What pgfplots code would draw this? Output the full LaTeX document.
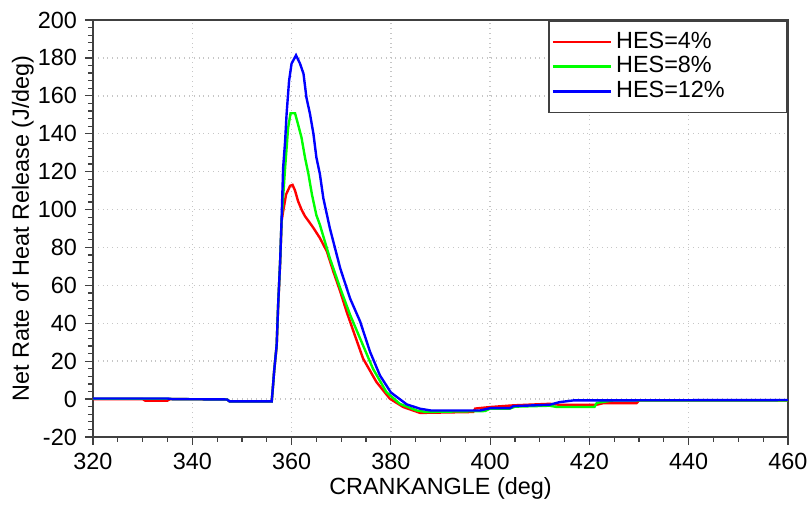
\documentclass[border=0pt]{standalone}
\usepackage{pgfplots}
\pgfplotsset{compat=1.18}
\usepackage{fontspec}
\setmainfont{Liberation Sans}
\definecolor{axgray}{RGB}{64,64,64}
\begin{document}
\fontsize{11.7}{14}\selectfont
\begin{tikzpicture}
\useasboundingbox (0,0) rectangle (405.5pt,254pt);
\begin{axis}[
  at={(46.5pt,35.5pt)}, anchor=south west,
  scale only axis, width=347.5pt, height=208.5pt,
  xmin=320, xmax=460, ymin=-20, ymax=200,
  xtick={320,340,...,460}, ytick={-20,0,...,200},
  minor x tick num=3, minor y tick num=4,
  tick align=outside, xtick pos=bottom, ytick pos=left,
  major tick length=4pt, minor tick length=2.5pt,
  axis line style={axgray, line width=0.8pt},
  every tick/.style={axgray, line width=0.6pt},
  grid=major, major grid style={gray!45, dotted, line width=0.7pt},
  /pgf/number format/assume math mode=true,
  ticklabel style={font=\fontsize{11.7}{14}\selectfont},
  xlabel={CRANKANGLE (deg)}, ylabel={Net Rate of Heat Release (J/deg)},
  label style={font=\fontsize{11.7}{14}\selectfont},
  xlabel style={yshift=4pt}, ylabel style={yshift=-6pt},
  legend style={at={(1,1)}, anchor=north east, draw=axgray, line width=0.8pt,
    font=\fontsize{11.7}{14}\selectfont, inner xsep=1.5pt, inner ysep=3.5pt,
    row sep=-1.5pt, cells={anchor=west, text width=82pt}},
  legend image code/.code={\draw[#1, line width=1.2pt] (0pt,0pt) -- (29pt,0pt);},
  legend cell align=left,
  every axis plot/.append style={line width=1.2pt},
]
\addplot[red] coordinates {
(320,0) (330,0) (330.5,-0.8) (335,-0.8) (335.5,0) (347,-0.2) (347.5,-1.2) (356,-1.2)
(356.2,5) (356.5,15) (357,28) (357.3,49) (357.7,72) (358,94) (358.3,99) (358.9,108)
(359.7,112.5) (360.2,113) (360.7,110) (361.3,104.5) (362,100) (362.7,96.5) (363.4,94)
(364.4,90.3) (365.7,85) (367.1,78) (368.4,67.4) (369.8,56.8) (371.1,46) (372.5,35.5)
(374.4,21.4) (377.1,9) (379.8,0.2) (382.5,-4.2) (385.9,-7.3) (396.6,-6.8) (397,-5)
(400,-4.2) (404.7,-3.3) (412,-2.5) (414,-3) (421.4,-3) (422.7,-2.2) (429.5,-2.1)
(430,-0.7) (460,-0.7)
};
\addlegendentry{HES=4\%}
\addplot[green] coordinates {
(320,0.2) (335,0.2) (336,0) (347,-0.2) (347.5,-1.2) (356,-1.2)
(356.2,5) (356.5,15) (357,28.6) (357.3,50) (357.7,72.7) (358,95) (358.7,122)
(359.3,143) (359.8,150.8) (360.7,150.8) (361.3,145) (362,138) (362.7,127.5)
(363.4,118.7) (364.1,108) (365,97) (365.7,92) (367.7,74.4) (369.8,58.5) (371.8,44.4)
(373.8,32) (376.4,16) (379.1,3.7) (381.8,-2.5) (385.2,-6) (387,-6.8) (399,-6.3)
(400,-5) (404,-5) (405,-4) (412,-3.5) (413.5,-4.2) (421,-4.2) (421.5,-2) (424,-1)
(425,-0.7) (460,-0.7)
};
\addlegendentry{HES=8\%}
\addplot[blue] coordinates {
(320,0.3) (335,0.3) (336,0) (347,-0.2) (347.5,-1.2) (356,-1.2)
(356.2,5) (356.5,15) (357,28.6) (357.3,50) (357.7,72.7) (358,95.6) (358.3,122)
(358.7,136) (359,150.5) (359.5,168) (360,177) (360.9,181.4) (361.7,177) (362.4,171.7)
(363,159) (363.7,150.6) (364.4,140) (365,127.5) (365.7,118.8) (366.4,106) (367.7,90.3)
(369.8,69) (371.8,53) (373.8,41) (375.8,25) (377.8,12.5) (380,3.5) (383.2,-2.8)
(385.9,-5.1) (388,-6) (398,-6) (400,-4.8) (404,-4.8) (404.7,-3.7) (412,-3) (414,-1.6)
(416.8,-0.7) (460,-0.5)
};
\addlegendentry{HES=12\%}
\end{axis}
\end{tikzpicture}
\end{document}
